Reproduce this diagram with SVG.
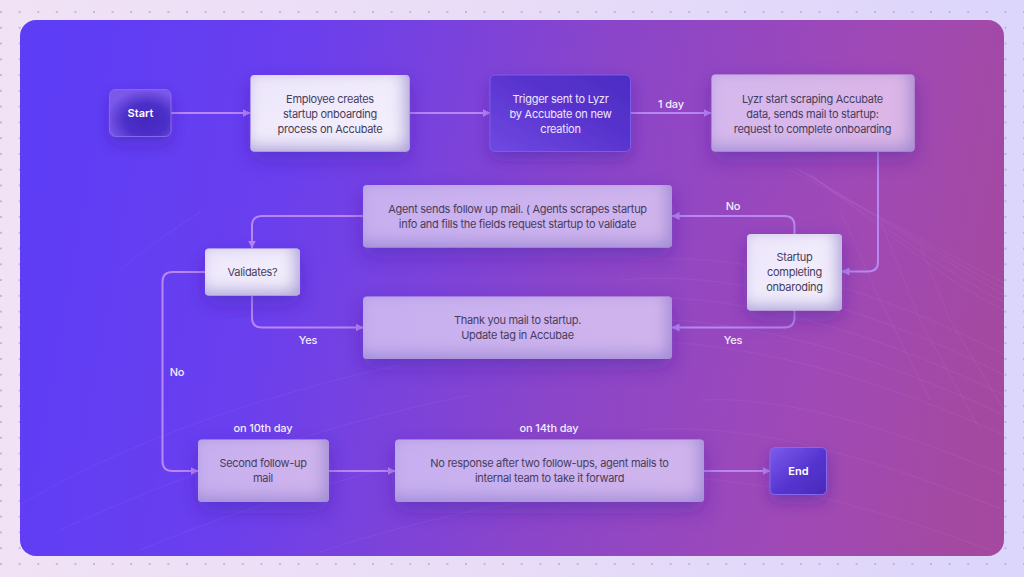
<svg xmlns="http://www.w3.org/2000/svg" width="1024" height="577" viewBox="0 0 1024 577">
<style>
.n{font:11px Inter,"Liberation Sans",sans-serif;letter-spacing:-.3px;fill:#463d5c;text-anchor:middle}
.w{font:500 11px Inter,"Liberation Sans",sans-serif;letter-spacing:-.15px;fill:#f3ecff;text-anchor:middle}
.t{font:11px Inter,"Liberation Sans",sans-serif;letter-spacing:-.25px;fill:#efe6ff;text-anchor:middle}
.b{font:600 11px Inter,"Liberation Sans",sans-serif;fill:#fff;text-anchor:middle}
.c{fill:none;stroke:#b987f3;stroke-width:2;marker-end:url(#a)}
.m{fill:none;stroke:#fff;stroke-width:.6;opacity:.09}
</style>
<defs>
<linearGradient id="bg" x1="0" x2="1" y1="0" y2="0"><stop offset="0" stop-color="#f1e2f5"/><stop offset=".5" stop-color="#e8dcf7"/><stop offset="1" stop-color="#dcd5fc"/></linearGradient>
<linearGradient id="panel" gradientUnits="userSpaceOnUse" x1="20" y1="200" x2="1004" y2="380"><stop offset="0" stop-color="#5d3df6"/><stop offset=".25" stop-color="#6a3fee"/><stop offset=".55" stop-color="#8a45ca"/><stop offset=".82" stop-color="#a049b6"/><stop offset="1" stop-color="#a4499f"/></linearGradient>
<linearGradient id="lite" x1="0" y1="0" x2="1" y2="1"><stop offset="0" stop-color="#ede6fc"/><stop offset="1" stop-color="#f5f1fc"/></linearGradient>
<linearGradient id="lyzr" x1="0" y1="0" x2="1" y2="0"><stop offset="0" stop-color="#d5b8ee"/><stop offset="1" stop-color="#dcb6e6"/></linearGradient>
<linearGradient id="mid" x1="0" y1="0" x2="1" y2="0"><stop offset="0" stop-color="#c7aff0"/><stop offset="1" stop-color="#d0b4ec"/></linearGradient>
<radialGradient id="darkr" cx=".6" cy=".65" r=".65"><stop offset="0" stop-color="#4427c0"/><stop offset=".55" stop-color="#4d30c9"/><stop offset="1" stop-color="#7a58ea"/></radialGradient>
<linearGradient id="dark" x1="0" y1="0" x2="1" y2="1"><stop offset="0" stop-color="#7d5cec"/><stop offset=".55" stop-color="#5534cf"/><stop offset="1" stop-color="#4a2ab8"/></linearGradient>
<linearGradient id="trig" x1="0" y1="1" x2="1" y2="0"><stop offset="0" stop-color="#7048e2"/><stop offset=".6" stop-color="#5732cc"/><stop offset="1" stop-color="#4b2dc4"/></linearGradient>
<marker id="a" viewBox="0 0 8 8" refX="7.5" refY="4" markerWidth="8" markerHeight="8" markerUnits="userSpaceOnUse" orient="auto"><path d="M0 0L8 4L0 8Z" fill="#b987f3"/></marker>
<pattern id="dots" patternUnits="userSpaceOnUse" x="1" y="12" width="18.6" height="15.77"><circle cx="0" cy="0" r="1" fill="#b7a4ee" /><circle cx="18.6" cy="0" r="1" fill="#b7a4ee"/><circle cx="0" cy="15.77" r="1" fill="#b7a4ee"/><circle cx="18.6" cy="15.77" r="1" fill="#b7a4ee"/></pattern>
<filter id="card" x="-30%" y="-40%" width="160%" height="190%">
<feGaussianBlur in="SourceAlpha" stdDeviation="8" result="b1"/>
<feOffset in="b1" dx="-5" dy="-5" result="o1"/>
<feComposite in="SourceAlpha" in2="o1" operator="out" result="i1"/>
<feFlood flood-color="#8f7ccf" flood-opacity=".8"/>
<feComposite in2="i1" operator="in" result="s1"/>
<feGaussianBlur in="SourceAlpha" stdDeviation="10" result="b2"/>
<feOffset in="b2" dy="8" result="o2"/>
<feFlood flood-color="#3a1ea0" flood-opacity=".38"/>
<feComposite in2="o2" operator="in" result="s2"/>
<feMerge><feMergeNode in="s2"/><feMergeNode in="SourceGraphic"/><feMergeNode in="s1"/></feMerge>
</filter>
<filter id="dk" x="-40%" y="-40%" width="180%" height="200%">
<feGaussianBlur in="SourceAlpha" stdDeviation="8" result="b2"/>
<feOffset in="b2" dy="7" result="o2"/>
<feFlood flood-color="#3a1ea0" flood-opacity=".4"/>
<feComposite in2="o2" operator="in" result="s2"/>
<feMerge><feMergeNode in="s2"/><feMergeNode in="SourceGraphic"/></feMerge>
</filter>
</defs>
<rect width="1024" height="577" fill="url(#bg)"/>
<rect width="1024" height="577" fill="url(#dots)"/>
<rect x="20" y="20" width="984" height="536" rx="16" fill="url(#panel)"/>
<g id="mesh">
<path class="m" d="M790 170C860 205 940 250 1004 283"/>
<path class="m" d="M795 168C865 208 945 258 1004 289"/>
<path class="m" d="M800 170C870 212 950 265 1004 295"/>
<path class="m" d="M805 172C875 220 950 275 1004 302"/>
<path class="m" d="M810 174C880 226 950 285 1004 310"/>
<path class="m" d="M840 210L880 300L930 400"/>
<path class="m" d="M880 220L920 320L980 430"/>
<path class="m" d="M920 245L950 320L1004 410"/>
<path class="m" d="M640 260C760 250 900 300 1004 355"/>
<path class="m" d="M620 280C750 268 895 320 1004 375"/>
<path class="m" d="M600 300C740 285 890 340 1004 395"/>
<path class="m" d="M580 322C730 305 885 360 1004 415"/>
<path class="m" d="M560 345C720 325 880 380 1004 435"/>
<path class="m" d="M700 400C800 395 920 440 1004 475"/>
<path class="m" d="M640 430C770 420 900 470 1004 510"/>
<path class="m" d="M600 480C740 465 880 510 990 550"/>
<path class="m" d="M20 505C120 445 260 395 400 365"/>
<path class="m" d="M60 530C180 475 320 425 470 395"/>
<path class="m" d="M140 550C260 500 400 460 560 430"/>
<path class="m" d="M320 552C430 515 560 490 700 480"/>
<path class="m" d="M120 270C150 245 180 225 200 212"/>
</g>
<g id="connectors">
<path class="c" d="M171 113H250"/>
<path class="c" d="M410 113H490"/>
<path class="c" d="M631 113H711"/>
<path class="c" d="M878 152V262Q878 271.500 868 271.500H842"/>
<path class="c" d="M794.500 234V226Q794.500 216 784.500 216H672"/>
<path class="c" d="M794.500 310V317.500Q794.500 327.500 784.500 327.500H672"/>
<path class="c" d="M363 216H262Q252 216 252 226V248"/>
<path class="c" d="M252 296V317.500Q252 327.500 262 327.500H363"/>
<path class="c" d="M205 272H172.500Q162.500 272 162.500 282V461Q162.500 471 172.500 471H198"/>
<path class="c" d="M329 471H395"/>
<path class="c" d="M704 471H770"/>
</g>
<g id="start"><rect x="109.500" y="89.500" width="61.500" height="47" rx="6" fill="url(#darkr)" stroke="#8468ee" filter="url(#dk)"/><text class="b" x="140.500" y="117">Start</text></g>
<g id="employee"><rect x="250.500" y="75" width="159" height="76.500" rx="4" fill="url(#lite)" filter="url(#card)"/><text class="n" x="330" y="103">Employee creates</text><text class="n" x="330" y="118">startup onboarding</text><text class="n" x="330" y="133">process on Accubate</text></g>
<g id="trigger"><rect x="490" y="75" width="140.500" height="76.500" rx="5" fill="url(#trig)" stroke="#7a5cea" filter="url(#dk)"/><text class="t" x="560.500" y="103">Trigger sent to Lyzr</text><text class="t" x="560.500" y="118">by Accubate on new</text><text class="t" x="560.500" y="133">creation</text></g>
<g id="lyzr-node"><rect x="711.500" y="74.500" width="203" height="77" rx="4" fill="url(#lyzr)" filter="url(#card)"/><text class="n" x="812.500" y="103">Lyzr start scraping Accubate</text><text class="n" x="812.500" y="118">data, sends mail to startup:</text><text class="n" x="812.500" y="133">request to complete onboarding</text></g>
<g id="agent"><rect x="363" y="185" width="309" height="62.500" rx="4" fill="url(#mid)" filter="url(#card)"/><text class="n" x="517.500" y="213">Agent sends follow up mail. ( Agents scrapes startup</text><text class="n" x="517.500" y="228">info and fills the fields request startup to validate</text></g>
<g id="validates"><rect x="205" y="248.500" width="95" height="47" rx="4" fill="url(#lite)" filter="url(#card)"/><text class="n" x="252.500" y="276">Validates?</text></g>
<g id="startup"><rect x="747" y="234" width="95" height="76.500" rx="4" fill="url(#lite)" filter="url(#card)"/><text class="n" x="794.500" y="261">Startup</text><text class="n" x="794.500" y="276">completing</text><text class="n" x="794.500" y="291">onbaroding</text></g>
<g id="thanks"><rect x="363" y="296.500" width="309" height="62.500" rx="4" fill="url(#mid)" filter="url(#card)"/><text class="n" x="517.500" y="324">Thank you mail to startup.</text><text class="n" x="517.500" y="339">Update tag in Accubae</text></g>
<g id="second"><rect x="198" y="439.500" width="131" height="62.500" rx="4" fill="url(#mid)" filter="url(#card)"/><text class="n" x="263" y="467">Second follow-up</text><text class="n" x="263" y="482">mail</text></g>
<g id="noresponse"><rect x="395" y="439.500" width="309" height="62.500" rx="4" fill="url(#mid)" filter="url(#card)"/><text class="n" x="549.500" y="467">No response after two follow-ups, agent mails to</text><text class="n" x="549.500" y="482">internal team to take it forward</text></g>
<g id="end"><rect x="770" y="447.500" width="56.500" height="47" rx="5" fill="url(#dark)" stroke="#8468ee" filter="url(#dk)"/><text class="b" x="798.500" y="475">End</text></g>
<g id="labels">
<text class="w" x="671" y="107.500">1 day</text>
<text class="w" x="733" y="209.500">No</text>
<text class="w" x="733" y="343.500">Yes</text>
<text class="w" x="308" y="343.500">Yes</text>
<text class="w" x="177" y="375.500">No</text>
<text class="w" x="263" y="432">on 10th day</text>
<text class="w" x="549" y="432">on 14th day</text>
</g>
</svg>
